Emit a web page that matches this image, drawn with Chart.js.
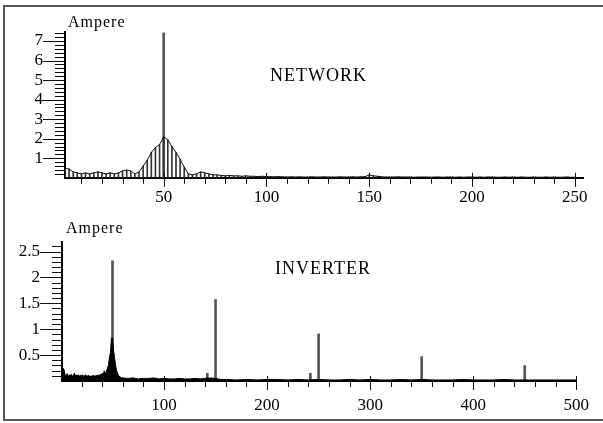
<!DOCTYPE html>
<html>
<head>
<meta charset="utf-8">
<script src="https://cdn.jsdelivr.net/npm/chart.js@4"></script>
<style>
  body { margin: 0; width: 603px; height: 423px; overflow: hidden; background: #fff; position: relative; }
  #frame { position: absolute; left: 3px; top: 5px; width: 620px; height: 412px; border: 2px solid #555; }
  canvas { position: absolute; left: 0; }
  .lbl { position: absolute; font-family: "Liberation Serif", "Times New Roman", serif; color: #000; line-height: 1; white-space: nowrap; }
  .unit { font-size: 16px; letter-spacing: 1px; }
  .name { font-size: 18px; letter-spacing: 1px; }
</style>
</head>
<body>
<div id="frame"></div>
<canvas id="top" width="603" height="210" style="top:0"></canvas>
<canvas id="bottom" width="603" height="213" style="top:210px"></canvas>
<div class="lbl unit" style="left:68px;top:14px">Ampere</div>
<div class="lbl name" style="left:270px;top:66px">NETWORK</div>
<div class="lbl unit" style="left:66px;top:220px">Ampere</div>
<div class="lbl name" style="left:275px;top:259px">INVERTER</div>
<script>
// NETWORK: spectrum sampled every 2 Hz (2..254)
const netFreq = [2,4,6,8,10,12,14,16,18,20,22,24,26,28,30,32,34,36,38,40,42,44,46,48,50,52,54,56,58,60,
  62,64,66,68,70,72,74,76,78,80,82,84,86,88,90,92,94,96,98,100,102,104,106,108,110,112,114,116,118,120,
  122,124,126,128,130,132,134,136,138,140,142,144,146,148,150,152,154,156,158,160,162,164,166,168,170,
  172,174,176,178,180,182,184,186,188,190,192,194,196,198,200,202,204,206,208,210,212,214,216,218,220,
  222,224,226,228,230,232,234,236,238,240,242,244,246,248,250,252,254];
const netAmp = [0.5,0.45,0.3,0.25,0.2,0.25,0.2,0.25,0.3,0.25,0.2,0.25,0.2,0.25,0.35,0.4,0.35,0.2,0.3,0.6,
  0.9,1.3,1.55,1.7,2.1,1.95,1.6,1.3,0.95,0.55,
  0.2,0.15,0.2,0.3,0.25,0.2,0.15,0.15,0.12,0.1,0.12,0.1,0.1,0.08,0.1,0.08,0.08,0.06,0.08,0.06,0.06,0.05,
  0.06,0.05,0.04,0.05,0.04,0.05,0.04,0.04,0.05,0.04,0.04,0.05,0.04,0.04,0.04,0.05,0.04,0.04,0.05,0.04,
  0.05,0.06,0.15,0.1,0.08,0.05,0.04,0.04,0.04,0.05,0.04,0.04,0.04,0.03,0.04,0.04,0.04,0.03,0.04,0.04,
  0.03,0.04,0.04,0.03,0.04,0.03,0.04,0.04,0.03,0.04,0.03,0.04,0.04,0.03,0.03,0.04,0.03,0.04,0.03,0.04,
  0.03,0.03,0.04,0.03,0.03,0.04,0.03,0.04,0.03,0.03,0.04,0.03,0.03];
const netSpikeFreq = [50];
const netSpikeAmp = [7.42];

// INVERTER: broadband noise + harmonics
const invFreq = [1,2,3,4,5,6,7,8,9,10,11,12,13,14,15,16,17,18,19,20,21,22,23,24,25,26,27,28,29,30,
  31,32,33,34,35,36,37,38,39,40,41,42,43,44,45,46,47,48,49,50,51,52,53,54,55,56,57,58,59,60,
  65,70,75,80,85,90,95,100,105,110,115,120,125,130,135,140,145,150,155,160,
  170,180,190,200,210,220,230,240,250,260,270,280,290,300,310,320,330,340,350,360,
  370,380,390,400,410,420,430,440,450,460,470,480,490,500];
const invAmp = [0.26,0.25,0.22,0.12,0.1,0.14,0.08,0.12,0.1,0.13,0.09,0.11,0.15,0.1,0.12,0.1,0.12,0.09,0.11,0.1,
  0.12,0.09,0.1,0.12,0.09,0.1,0.11,0.08,0.1,0.09,0.11,0.1,0.09,0.11,0.1,0.12,0.1,0.13,0.11,0.15,
  0.12,0.2,0.14,0.18,0.25,0.3,0.45,0.55,0.83,0.83,0.6,0.45,0.3,0.2,0.15,0.1,0.08,0.07,0.06,0.06,
  0.05,0.06,0.04,0.05,0.05,0.06,0.04,0.05,0.04,0.04,0.05,0.04,0.04,0.05,0.04,0.05,0.06,0.05,0.03,0.03,
  0.02,0.03,0.02,0.03,0.03,0.02,0.03,0.02,0.03,0.02,0.02,0.03,0.02,0.03,0.02,0.02,0.03,0.02,0.03,0.02,
  0.02,0.02,0.03,0.02,0.02,0.02,0.03,0.02,0.02,0.02,0.02,0.02,0.02,0.02];
const invSpikeFreq = [50,142,150,242,250,350,450];
const invSpikeAmp = [2.32,0.15,1.57,0.15,0.91,0.47,0.3];

// axis ticks
const netXLabels = [50,100,150,200,250];
const netYLabels = [1,2,3,4,5,6,7];
const invXLabels = [100,200,300,400,500];
const invYLabels = [0.5,1,1.5,2,2.5];

function range(a, b, step) {
  const out = [];
  for (let v = a; v <= b + 1e-9; v += step) out.push(Math.round(v * 100) / 100);
  return out;
}

Chart.defaults.font.family = '"Liberation Serif", "Times New Roman", serif';
Chart.defaults.font.size = 17;
Chart.defaults.color = '#000';

// draws minor/major tick marks on both axes
const tickMarks = {
  id: 'tickMarks',
  afterDraw(chart, args, o) {
    const { ctx, chartArea: a, scales: { x, y } } = chart;
    ctx.save();
    ctx.strokeStyle = '#111';
    ctx.lineWidth = 1;
    ctx.beginPath();
    o.xMinor.forEach((v) => {
      const p = Math.round(x.getPixelForValue(v)) + 0.5;
      ctx.moveTo(p, a.bottom); ctx.lineTo(p, a.bottom + 6);
    });
    o.xMajor.forEach((v) => {
      const p = Math.round(x.getPixelForValue(v)) + 0.5;
      ctx.moveTo(p, a.bottom - 5); ctx.lineTo(p, a.bottom + 9);
    });
    o.yMinor.forEach((v) => {
      const p = Math.round(y.getPixelForValue(v)) + 0.5;
      ctx.moveTo(a.left - 10, p); ctx.lineTo(a.left, p);
    });
    o.yMajor.forEach((v) => {
      const p = Math.round(y.getPixelForValue(v)) + 0.5;
      ctx.moveTo(a.left - 22, p); ctx.lineTo(a.left, p);
    });
    ctx.stroke();
    ctx.restore();
  },
};

function makeChart(id, cfg) {
  const pts = (fx, fy) => fx.map((f, i) => ({ x: f, y: fy[i] }));
  return new Chart(document.getElementById(id), {
    type: 'bar',
    data: { datasets: cfg.datasets(pts) },
    options: {
      responsive: false,
      animation: false,
      devicePixelRatio: 1,
      layout: { padding: { left: 0, right: cfg.padRight, top: cfg.padTop, bottom: 0 } },
      plugins: {
        legend: { display: false },
        tooltip: { enabled: false },
        tickMarks: {
          xMinor: cfg.xMinor, xMajor: cfg.xLabels,
          yMinor: cfg.yMinor, yMajor: cfg.yLabels,
        },
      },
      scales: {
        x: {
          type: 'linear',
          min: cfg.xMin, max: cfg.xMax,
          offset: false,
          grid: { drawOnChartArea: false, drawTicks: false },
          border: { color: '#000', width: 2 },
          afterBuildTicks: (s) => { s.ticks = cfg.xLabels.map((v) => ({ value: v })); },
          afterFit: (s) => { s.height = cfg.xHeight; },
          ticks: { padding: cfg.xPad, maxRotation: 0, autoSkip: false, callback: (v) => String(v) },
        },
        y: {
          min: 0, max: cfg.yMax,
          grid: { drawOnChartArea: false, drawTicks: false },
          border: { color: '#000', width: 2 },
          afterBuildTicks: (s) => { s.ticks = cfg.yLabels.map((v) => ({ value: v })); },
          afterFit: (s) => { s.width = cfg.yWidth; },
          ticks: { padding: 22, autoSkip: false, callback: (v) => String(v) },
        },
      },
    },
    plugins: [tickMarks],
  });
}

makeChart('top', {
  xMin: 2, xMax: 254, yMax: 7.45,
  padRight: 20, padTop: 28, xHeight: 32, yWidth: 65, xPad: 10,
  xLabels: netXLabels, yLabels: netYLabels,
  xMinor: range(10, 250, 10), yMinor: range(0.2, 7.4, 0.2),
  datasets: (pts) => [
    { type: 'line', data: pts(netFreq, netAmp), borderColor: '#111', borderWidth: 1,
      pointRadius: 0, tension: 0, fill: false },
    { data: pts(netFreq, netAmp), backgroundColor: '#333', barThickness: 1, grouped: false },
    { data: pts(netSpikeFreq, netSpikeAmp), backgroundColor: '#555', barThickness: 2, grouped: false },
  ],
});

makeChart('bottom', {
  xMin: 1, xMax: 500, yMax: 2.68,
  padRight: 24, padTop: 22, xHeight: 42, yWidth: 62, xPad: 14,
  xLabels: invXLabels, yLabels: invYLabels,
  xMinor: range(20, 480, 20), yMinor: range(0.1, 2.6, 0.1),
  datasets: (pts) => [
    { type: 'line', data: pts(invFreq, invAmp), borderColor: '#000', backgroundColor: '#000',
      borderWidth: 1, pointRadius: 0, tension: 0, fill: 'origin' },
    { data: pts(invSpikeFreq, invSpikeAmp), backgroundColor: '#555', barThickness: 2, grouped: false },
  ],
});
</script>
</body>
</html>
